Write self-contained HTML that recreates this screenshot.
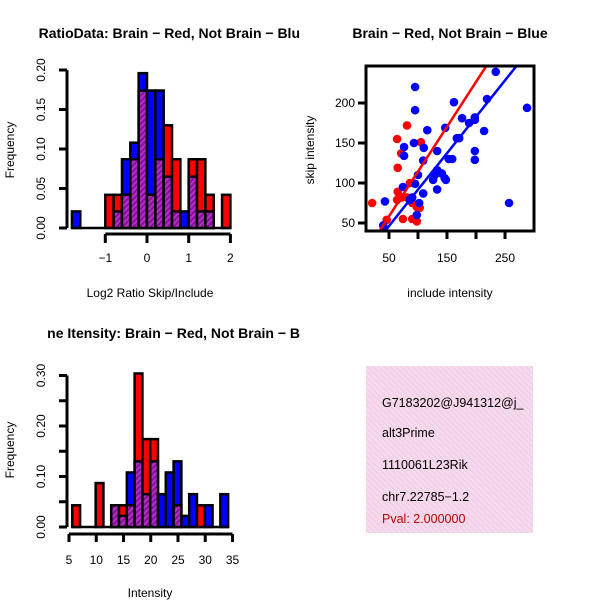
<!DOCTYPE html>
<html><head><meta charset="utf-8"><style>
html,body{margin:0;padding:0;background:#fff}
svg{display:block;font-family:"Liberation Sans",sans-serif}
</style></head><body>
<svg id="s" width="600" height="600" viewBox="0 0 600 600">
<defs>
<pattern id="hatch" width="4" height="4" patternUnits="userSpaceOnUse" patternTransform="rotate(45)">
<rect width="4" height="4" fill="#8a109a"/><rect width="2" height="4" fill="#b030c8"/>
</pattern>
<pattern id="pink" width="4" height="4" patternUnits="userSpaceOnUse" patternTransform="rotate(-45)">
<rect width="4" height="4" fill="#f8d8f0"/><rect width="1" height="4" fill="#e8d0d8"/>
</pattern>
<clipPath id="scClip"><rect x="366" y="66" width="168" height="165"/></clipPath>
<clipPath id="infoClip"><rect x="366" y="366" width="167" height="167"/></clipPath>
<clipPath id="leftClip"><rect x="0" y="0" width="300" height="600"/></clipPath>
</defs>
<g id="h1"></g>
<g id="sc"></g>
<g id="h2"></g>
<g>
<rect x="366" y="366" width="167" height="167" fill="url(#pink)"/>
<g clip-path="url(#infoClip)" font-size="12.5">
<text x="382" y="407">G7183202@J941312@j_</text>
<text x="382" y="437">alt3Prime</text>
<text x="382" y="469">1110061L23Rik</text>
<text x="382" y="501">chr7.22785−1.2</text>
<text x="382" y="523" fill="#c00000">Pval: 2.000000</text>
</g></g>
</svg>
<script>
// Histogram 1 data (log2 ratio), bins of 0.2 starting at -1.8
const h1Start=-1.8, h1Width=0.2;
const h1Red=[0,0,0,0,0.042,0.042,0.042,0.087,0.174,0.042,0.087,0.13,0.087,0,0.087,0.087,0.042,0,0.042];
const h1Blue=[0.021,0,0,0,0,0.021,0.087,0.108,0.196,0.174,0.174,0.065,0.021,0.021,0.065,0.021,0.021,0,0];
const h1XTicks=[-1,0,1,2];
const h1YTicks=[0,0.05,0.10,0.15,0.20];
const h1YLabels=["0.00","0.05","0.10","0.15","0.20"];
// Histogram 2 data (intensity)
const h2Start=5.6, h2Width=1.43;
const h2Red=[0.043,0,0,0.087,0,0.043,0.043,0.043,0.304,0.174,0.174,0,0,0.043,0,0,0.043,0,0,0];
const h2Blue=[0,0,0,0,0,0.043,0.022,0.108,0.13,0.065,0.13,0.065,0.108,0.13,0.022,0.065,0,0.043,0,0.065];
const h2XTicks=[5,10,15,20,25,30,35];
const h2YTicks=[0,0.05,0.10,0.15,0.20,0.25,0.30];
const h2YLabels=["0.00","","0.10","","0.20","","0.30"];
// Scatter data
const blueX=[234,288,95,95,162,219,176,198,198,188,214,116,147,167,171,93,76,110,133,76,109,153,159,198,198,133,141,129,146,126,100,148,74,95,133,109,90,86,102,43,257,98,40];
const blueY=[239,194,220,191,201,205,181,182,179,175,165,166,169,156,156,150,145,144,140,134,128,130,130,140,129,116,112,110,106,104,110,104,95,99,92,87,82,79,75,77,75,60,47];
const redX=[81,64,105,71,65,86,65,64,72,81,90,98,103,21,46,74,90,98];
const redY=[172,155,151,137,119,100,89,79,82,82,75,70,69,75,54,55,55,52];
const redFit=[2.3,1.12];   // intercept, slope
const blueFit=[0.7,0.91];
const scXTicks=[50,100,150,200,250], scXLabels=["50","","150","","250"];
const scYTicks=[50,100,150,200];

const NS="http://www.w3.org/2000/svg";
function mk(parent,tag,attrs){const e=document.createElementNS(NS,tag);for(const k in attrs)e.setAttribute(k,attrs[k]);parent.appendChild(e);return e;}

function hist(g,start,w,red,blue,x0px,ppu,xStart,y0,ppy){
  const sx=v=>x0px+(v-xStart)*ppu, sy=v=>y0-v*ppy;
  const base=mk(g,'line',{x1:sx(start),x2:sx(start+w*red.length),y1:sy(0),y2:sy(0),stroke:'#000','stroke-width':2.5});
  
  
  for(let i=0;i<red.length;i++){
    const a=start+i*w, L=sx(a), R=sx(a+w);
    const r=red[i], b=blue[i]; if(r===0&&b===0)continue;
    const hi=Math.max(r,b), lo=Math.min(r,b);
    const big=mk(g,'rect',{x:L,y:sy(hi),width:R-L,height:sy(0)-sy(hi),fill:r>=b?'#ff0000':'#0000ff',stroke:'#000','stroke-width':2.5});
    
    
    if(lo>0){
      const p=mk(g,'rect',{x:L,y:sy(lo),width:R-L,height:sy(0)-sy(lo),fill:'url(#hatch)',stroke:'#000','stroke-width':2.5});
      
      
    }
  }
  return {sx,sy};
}
function txt(g,x,y,s,attrs){const t=mk(g,'text',Object.assign({x,y},attrs||{}));t.textContent=s;return t;}

// ---- Histogram 1
(function(){
  const g=document.getElementById('h1');
  const {sx,sy}=hist(g,h1Start,h1Width,h1Red,h1Blue,147,41.7,0,228,790);
  const ya=mk(g,'line',{x1:67,x2:67,y1:sy(0),y2:sy(0.2),stroke:'#000','stroke-width':3});
  
  h1YTicks.forEach((v,i)=>{mk(g,'line',{x1:59,x2:67,y1:sy(v),y2:sy(v),stroke:'#000','stroke-width':3});
    const t=txt(g,45,sy(v),h1YLabels[i],{'font-size':12,'text-anchor':'middle',transform:`rotate(-90 45 ${sy(v)})`});
    });
  const xa=mk(g,'line',{x1:sx(-1),x2:sx(2),y1:234,y2:234,stroke:'#000','stroke-width':3});
  
  h1XTicks.forEach(v=>{mk(g,'line',{x1:sx(v),x2:sx(v),y1:234,y2:243,stroke:'#000','stroke-width':3});
    const t=txt(g,sx(v),262,v<0?'−'+(-v):String(v),{'font-size':12,'text-anchor':'middle'});
    });
  let t=txt(g,150,297,'Log2 Ratio Skip/Include',{'font-size':12,'text-anchor':'middle'});
  
  t=txt(g,14,150,'Frequency',{'font-size':12,'text-anchor':'middle',transform:'rotate(-90 14 150)'});
  
  t=txt(g,300,38,'RatioData: Brain − Red, Not Brain − Blu',{'font-size':14,'font-weight':'bold','text-anchor':'end','clip-path':'url(#leftClip)'});
  
})();

// ---- Histogram 2
(function(){
  const g=document.getElementById('h2');
  const {sx,sy}=hist(g,h2Start,h2Width,h2Red,h2Blue,69,5.45,5,527,505);
  const ya=mk(g,'line',{x1:67,x2:67,y1:sy(0),y2:sy(0.3),stroke:'#000','stroke-width':3});
  
  h2YTicks.forEach((v,i)=>{mk(g,'line',{x1:59,x2:67,y1:sy(v),y2:sy(v),stroke:'#000','stroke-width':3});
    if(h2YLabels[i]){const t=txt(g,45,sy(v),h2YLabels[i],{'font-size':12,'text-anchor':'middle',transform:`rotate(-90 45 ${sy(v)})`});
    }});
  const xa=mk(g,'line',{x1:sx(5),x2:sx(35),y1:534,y2:534,stroke:'#000','stroke-width':3});
  
  h2XTicks.forEach(v=>{mk(g,'line',{x1:sx(v),x2:sx(v),y1:534,y2:542,stroke:'#000','stroke-width':3});
    const t=txt(g,sx(v),564,String(v),{'font-size':12,'text-anchor':'middle'});
    });
  let t=txt(g,150,597,'Intensity',{'font-size':12,'text-anchor':'middle'});
  
  t=txt(g,14,450,'Frequency',{'font-size':12,'text-anchor':'middle',transform:'rotate(-90 14 450)'});
  
  t=txt(g,300,338,'ne Itensity: Brain − Red, Not Brain − B',{'font-size':14,'font-weight':'bold','text-anchor':'end','clip-path':'url(#leftClip)'});
  
})();

// ---- Scatter
(function(){
  const g=document.getElementById('sc');
  const sx=v=>389+(v-50)*0.58, sy=v=>223-(v-50)*0.8;
  const cg=mk(g,'g',{'clip-path':'url(#scClip)'});
  for(let i=0;i<redX.length;i++){const c=mk(cg,'circle',{cx:sx(redX[i]),cy:sy(redY[i]),r:4.3,fill:'#ff0000'});
    }
  for(let i=0;i<blueX.length;i++){const c=mk(cg,'circle',{cx:sx(blueX[i]),cy:sy(blueY[i]),r:4.3,fill:'#0000ff'});
    }
  [[redFit,'#ff0000','red'],[blueFit,'#0000ff','blue']].forEach(([f,col,n])=>{
    const x1=0,x2=320;
    const l=mk(cg,'line',{x1:sx(x1),y1:sy(f[0]+f[1]*x1),x2:sx(x2),y2:sy(f[0]+f[1]*x2),stroke:col,'stroke-width':2.5});
    });
  const b=mk(g,'rect',{x:366,y:66,width:168,height:165,fill:'none',stroke:'#000','stroke-width':3});
  
  scXTicks.forEach((v,i)=>{mk(g,'line',{x1:sx(v),x2:sx(v),y1:231,y2:239,stroke:'#000','stroke-width':3});
    if(scXLabels[i]){const t=txt(g,sx(v),262,scXLabels[i],{'font-size':12,'text-anchor':'middle'});
    }});
  scYTicks.forEach(v=>{mk(g,'line',{x1:358,x2:366,y1:sy(v),y2:sy(v),stroke:'#000','stroke-width':3});
    const t=txt(g,355,sy(v)+4,String(v),{'font-size':12,'text-anchor':'end'});
    });
  let t=txt(g,450,297,'include intensity',{'font-size':12,'text-anchor':'middle'});
  
  t=txt(g,314,150,'skip intensity',{'font-size':12,'text-anchor':'middle',transform:'rotate(-90 314 150)'});
  
  t=txt(g,450,38,'Brain − Red, Not Brain − Blue',{'font-size':14,'font-weight':'bold','text-anchor':'middle'});
  
})();
</script>
</body></html>
